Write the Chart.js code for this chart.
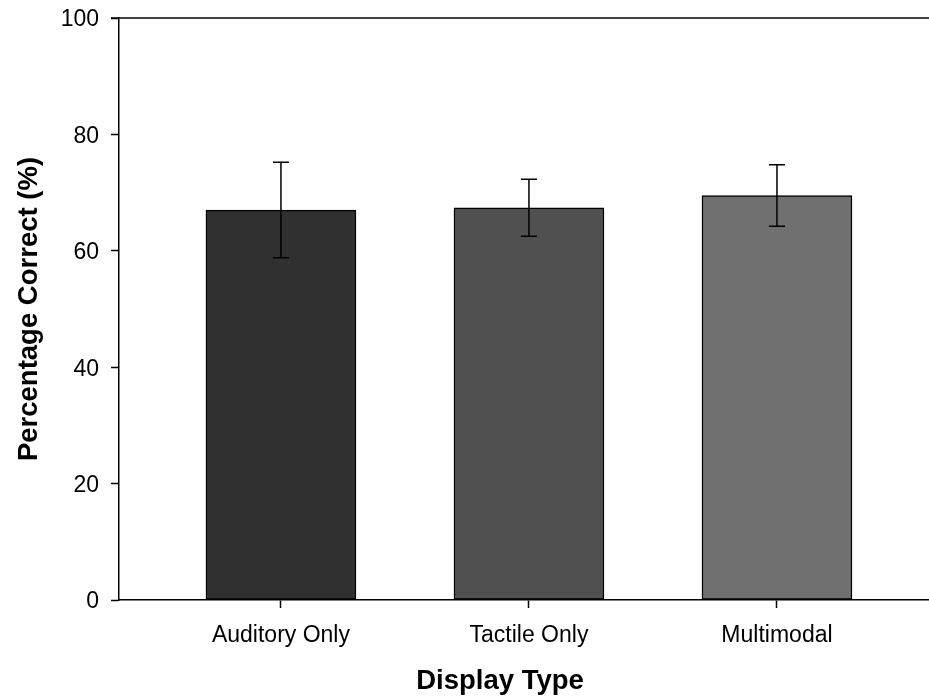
<!DOCTYPE html>
<html>
<head>
<meta charset="utf-8">
<script src="https://cdn.jsdelivr.net/npm/chart.js@4.4.1/dist/chart.umd.min.js"></script>
<style>
  html, body { margin: 0; padding: 0; background: #ffffff; }
  #wrap { width: 929px; height: 696px; }
</style>
</head>
<body>
<div id="wrap"><canvas id="chart" width="929" height="696"></canvas></div>
<script>
// Mean percentage correct per display type, with the error half-widths
const categories = ['Auditory Only', 'Tactile Only', 'Multimodal'];
const meanCorrect = [67.0, 67.4, 69.5];
const errorHalf = [8.2, 4.9, 5.3];
const barColors = ['#303030', '#505050', '#707070'];
const yTicks = [0, 20, 40, 60, 80, 100];
const xTitle = 'Display Type';
const yTitle = 'Percentage Correct (%)';

const FONT = "'Liberation Sans', Arial, Helvetica, sans-serif";

// white page background
const background = {
  id: 'background',
  beforeDraw(chart) {
    const ctx = chart.ctx;
    ctx.save();
    ctx.fillStyle = '#ffffff';
    ctx.fillRect(0, 0, chart.width, chart.height);
    ctx.restore();
  }
};

// top frame line of the plot area and the x-axis title
const frameAndTitle = {
  id: 'frameAndTitle',
  afterDraw(chart) {
    const { ctx, chartArea } = chart;
    ctx.save();
    ctx.strokeStyle = '#000000';
    ctx.lineWidth = 1.5;
    ctx.beginPath();
    ctx.moveTo(chartArea.left - 8, chartArea.top);
    ctx.lineTo(chartArea.right, chartArea.top);
    ctx.stroke();

    ctx.fillStyle = '#000000';
    ctx.font = "bold 27.5px " + FONT;
    ctx.textAlign = 'center';
    ctx.textBaseline = 'alphabetic';
    ctx.fillText(xTitle, 500, 689);
    ctx.restore();
  }
};

// vertical error bars with caps, placed through the chart scales
const errorBars = {
  id: 'errorBars',
  afterDatasetsDraw(chart) {
    const { ctx, scales } = chart;
    const xs = scales.x, ys = scales.y;
    const cap = 8;
    ctx.save();
    ctx.strokeStyle = '#000000';
    ctx.lineWidth = 1.5;
    meanCorrect.forEach((m, i) => {
      const x = xs.getPixelForValue(i + 1);
      const yHi = ys.getPixelForValue(m + errorHalf[i]);
      const yLo = ys.getPixelForValue(m - errorHalf[i]);
      ctx.beginPath();
      ctx.moveTo(x, yHi);
      ctx.lineTo(x, yLo);
      ctx.moveTo(x - cap, yHi);
      ctx.lineTo(x + cap, yHi);
      ctx.moveTo(x - cap, yLo);
      ctx.lineTo(x + cap, yLo);
      ctx.stroke();
    });
    ctx.restore();
  }
};

new Chart(document.getElementById('chart'), {
  type: 'bar',
  data: {
    datasets: [{
      data: meanCorrect.map((v, i) => ({ x: i + 1, y: v })),
      backgroundColor: barColors,
      borderColor: '#000000',
      borderWidth: 1.5,
      borderSkipped: false,
      barThickness: 150
    }]
  },
  options: {
    responsive: false,
    animation: false,
    devicePixelRatio: 1,
    layout: { padding: { top: 18, right: 0, bottom: 0, left: 0 } },
    plugins: {
      legend: { display: false },
      tooltip: { enabled: false },
      title: { display: false }
    },
    scales: {
      x: {
        type: 'linear',
        offset: false,
        min: 0.347,
        max: 3.613,
        afterBuildTicks(scale) {
          scale.ticks = categories.map((c, i) => ({ value: i + 1 }));
        },
        afterFit(scale) {
          scale.height = 96;
          scale.paddingLeft = 0;
          scale.paddingRight = 0;
        },
        grid: {
          display: true,
          offset: false,
          drawOnChartArea: false,
          drawTicks: true,
          tickLength: 8,
          tickWidth: 1.5,
          tickColor: '#000000'
        },
        border: { display: true, color: '#000000', width: 1.5 },
        ticks: {
          autoSkip: false,
          maxRotation: 0,
          padding: 14,
          color: '#000000',
          font: { family: FONT, size: 23 },
          callback: (v) => categories[v - 1] ?? ''
        },
        title: { display: false }
      },
      y: {
        min: 0,
        max: 100,
        afterBuildTicks(scale) {
          scale.ticks = yTicks.map(v => ({ value: v }));
        },
        afterFit(scale) {
          scale.width = 119;
          scale.paddingTop = 0;
          scale.paddingBottom = 0;
        },
        grid: {
          display: true,
          drawOnChartArea: false,
          drawTicks: true,
          tickLength: 8,
          tickWidth: 1.5,
          tickColor: '#000000'
        },
        border: { display: true, color: '#000000', width: 1.5 },
        ticks: {
          padding: 12,
          labelOffset: 2,
          color: '#000000',
          font: { family: FONT, size: 23 }
        },
        title: {
          display: true,
          text: yTitle,
          color: '#000000',
          font: { family: FONT, size: 27.5, weight: 'bold' },
          padding: { top: 13, bottom: 0 }
        }
      }
    }
  },
  plugins: [background, errorBars, frameAndTitle]
});
</script>
</body>
</html>
